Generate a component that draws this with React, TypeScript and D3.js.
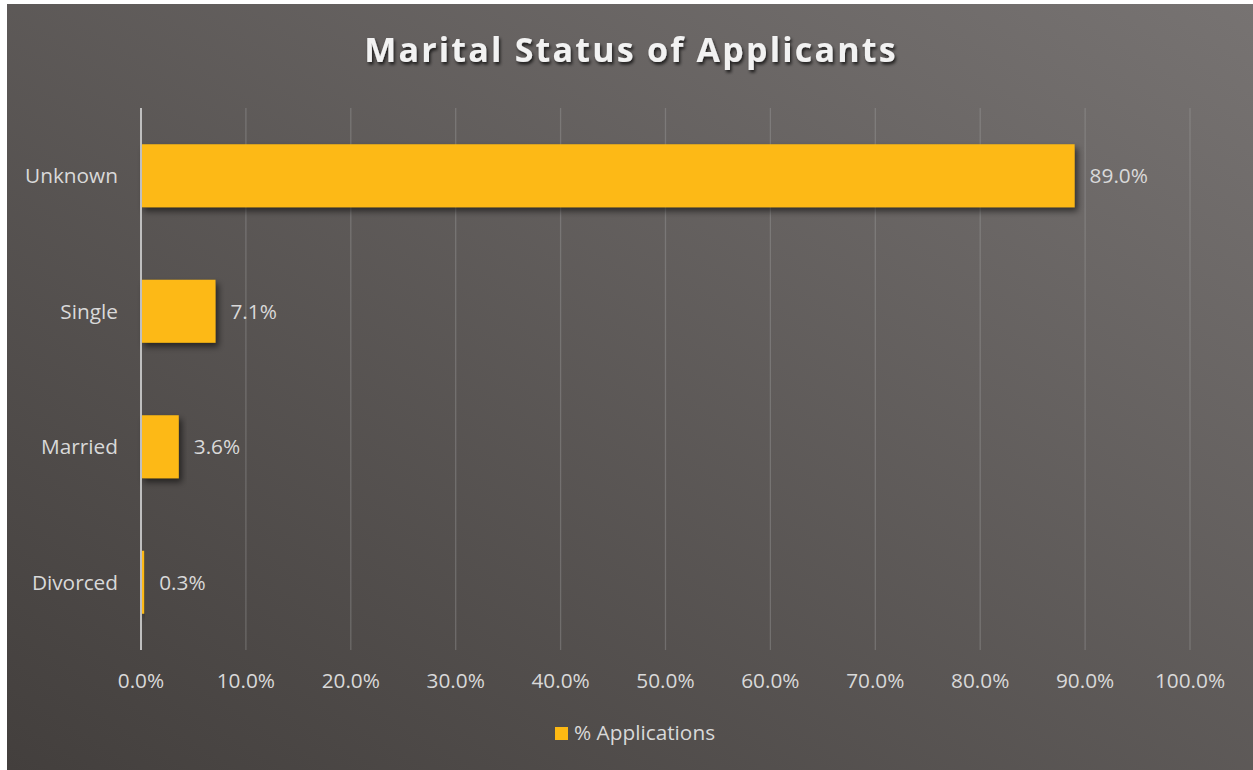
import React from "react";
import * as d3 from "d3";

const categories = ["Unknown", "Single", "Married", "Divorced"];
const values = [89.0, 7.1, 3.6, 0.3];
const xTicks = [0, 10, 20, 30, 40, 50, 60, 70, 80, 90, 100];
const seriesName = "% Applications";
const title = "Marital Status of Applicants";

const W = 1246;
const H = 766;
const OX = 7;
const OY = 4;

export default function App() {
  React.useEffect(() => {
    document.body.style.margin = "0";
    document.body.style.background = "#ffffff";
  }, []);
  const left = 141 - OX;
  const right = 1190 - OX;
  const top = 108 - OY;
  const bottom = 650 - OY;
  const x = d3.scaleLinear().domain([0, 100]).range([left, right]);
  const y = d3
    .scaleBand<string>()
    .domain(categories)
    .range([top, bottom])
    .paddingInner(0.535)
    .paddingOuter(0.2675);
  const font = "'Open Sans', sans-serif";
  const textColor = "#d9d9d9";
  const fs = 20.8;
  return (
    <div style={{ position: "absolute", left: OX, top: OY }}>
      <svg width={W} height={H} style={{ display: "block" }}>
        <defs>
          <linearGradient id="bg" x1="0" y1="1" x2="1" y2="0">
            <stop offset="0%" stopColor="#433f3d" />
            <stop offset="100%" stopColor="#777372" />
          </linearGradient>
          <filter id="shadow" x="-10%" y="-20%" width="130%" height="160%">
            <feDropShadow dx="3" dy="4" stdDeviation="3" floodColor="#000" floodOpacity="0.55" />
          </filter>
          <filter id="tshadow" x="-10%" y="-30%" width="120%" height="180%">
            <feDropShadow dx="1.5" dy="2.5" stdDeviation="1.5" floodColor="#000" floodOpacity="0.7" />
          </filter>
        </defs>
        <rect x={0} y={0} width={W} height={H} fill="url(#bg)" />
        <text
          x={631 - OX}
          y={62 - OY}
          textAnchor="middle"
          fontFamily={font}
          fontWeight="bold"
          fontSize={34}
          letterSpacing={2.2}
          fill="#f2f2f2"
          filter="url(#tshadow)"
        >
          {title}
        </text>
        {xTicks.slice(1).map((t) => (
          <line
            key={t}
            x1={x(t)}
            x2={x(t)}
            y1={top}
            y2={bottom}
            stroke="#a6a6a6"
            strokeOpacity={0.35}
            strokeWidth={1.3}
          />
        ))}
        {categories.map((c, i) => (
          <g key={c}>
            <rect
              x={x(0)}
              y={y(c)!}
              width={Math.max(x(values[i]) - x(0), 1)}
              height={y.bandwidth()}
              fill="#fdb913"
              filter="url(#shadow)"
            />
            <text
              x={x(values[i]) + 15}
              y={y(c)! + y.bandwidth() / 2}
              dy="0.35em"
              fontFamily={font}
              fontSize={fs}
              fill={textColor}
            >
              {values[i].toFixed(1) + "%"}
            </text>
            <text
              x={x(0) - 23}
              y={y(c)! + y.bandwidth() / 2}
              dy="0.35em"
              textAnchor="end"
              fontFamily={font}
              fontSize={fs}
              fill={textColor}
            >
              {c}
            </text>
          </g>
        ))}
        <line x1={x(0)} x2={x(0)} y1={top} y2={bottom} stroke="#bfbfbf" strokeWidth={2} />
        {xTicks.map((t) => (
          <text
            key={t}
            x={x(t)}
            y={681 - OY}
            dy="0.35em"
            textAnchor="middle"
            fontFamily={font}
            fontSize={fs}
            fill={textColor}
          >
            {t.toFixed(1) + "%"}
          </text>
        ))}
        <rect x={555 - OX} y={727 - OY} width={13} height={13} fill="#fdb913" />
        <text x={574 - OX} y={733 - OY} dy="0.35em" fontFamily={font} fontSize={fs} fill={textColor}>
          {seriesName}
        </text>
      </svg>
    </div>
  );
}
